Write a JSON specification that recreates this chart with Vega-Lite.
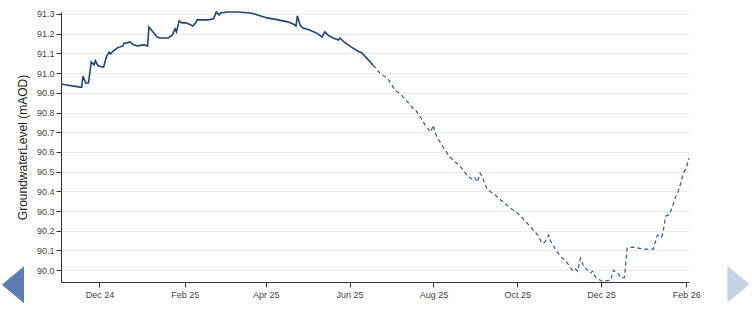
{
  "$schema": "https://vega.github.io/schema/vega-lite/v6.json",
  "autosize": {"type": "none"},
  "width": 628,
  "height": 270,
  "padding": {"left": 61, "top": 12, "right": 63, "bottom": 33},
  "background": "white",
  "config": {
    "view": {"stroke": null},
    "axis": {
      "labelFont": "Liberation Sans",
      "titleFont": "Liberation Sans",
      "labelFontSize": 9,
      "labelColor": "#444",
      "domainColor": "#333",
      "tickColor": "#333",
      "gridColor": "#ebebeb",
      "labelOverlap": false
    }
  },
  "datasets": {
    "levels": [
      {"date": "2024-11-03", "level": 90.945, "quality": "validated"},
      {"date": "2024-11-07", "level": 90.940, "quality": "validated"},
      {"date": "2024-11-11", "level": 90.935, "quality": "validated"},
      {"date": "2024-11-17", "level": 90.929, "quality": "validated"},
      {"date": "2024-11-18", "level": 90.929, "quality": "validated"},
      {"date": "2024-11-19", "level": 90.985, "quality": "validated"},
      {"date": "2024-11-21", "level": 90.950, "quality": "validated"},
      {"date": "2024-11-23", "level": 90.950, "quality": "validated"},
      {"date": "2024-11-25", "level": 91.056, "quality": "validated"},
      {"date": "2024-11-27", "level": 91.041, "quality": "validated"},
      {"date": "2024-11-28", "level": 91.062, "quality": "validated"},
      {"date": "2024-11-30", "level": 91.036, "quality": "validated"},
      {"date": "2024-12-04", "level": 91.031, "quality": "validated"},
      {"date": "2024-12-06", "level": 91.082, "quality": "validated"},
      {"date": "2024-12-08", "level": 91.107, "quality": "validated"},
      {"date": "2024-12-09", "level": 91.097, "quality": "validated"},
      {"date": "2024-12-11", "level": 91.112, "quality": "validated"},
      {"date": "2024-12-14", "level": 91.128, "quality": "validated"},
      {"date": "2024-12-18", "level": 91.138, "quality": "validated"},
      {"date": "2024-12-19", "level": 91.153, "quality": "validated"},
      {"date": "2024-12-21", "level": 91.153, "quality": "validated"},
      {"date": "2024-12-23", "level": 91.158, "quality": "validated"},
      {"date": "2024-12-26", "level": 91.143, "quality": "validated"},
      {"date": "2024-12-29", "level": 91.138, "quality": "validated"},
      {"date": "2025-01-02", "level": 91.143, "quality": "validated"},
      {"date": "2025-01-05", "level": 91.138, "quality": "validated"},
      {"date": "2025-01-06", "level": 91.234, "quality": "validated"},
      {"date": "2025-01-09", "level": 91.209, "quality": "validated"},
      {"date": "2025-01-12", "level": 91.183, "quality": "validated"},
      {"date": "2025-01-14", "level": 91.178, "quality": "validated"},
      {"date": "2025-01-20", "level": 91.178, "quality": "validated"},
      {"date": "2025-01-23", "level": 91.194, "quality": "validated"},
      {"date": "2025-01-25", "level": 91.224, "quality": "validated"},
      {"date": "2025-01-26", "level": 91.209, "quality": "validated"},
      {"date": "2025-01-28", "level": 91.265, "quality": "validated"},
      {"date": "2025-01-30", "level": 91.255, "quality": "validated"},
      {"date": "2025-02-02", "level": 91.255, "quality": "validated"},
      {"date": "2025-02-04", "level": 91.249, "quality": "validated"},
      {"date": "2025-02-07", "level": 91.239, "quality": "validated"},
      {"date": "2025-02-09", "level": 91.255, "quality": "validated"},
      {"date": "2025-02-10", "level": 91.270, "quality": "validated"},
      {"date": "2025-02-18", "level": 91.270, "quality": "validated"},
      {"date": "2025-02-22", "level": 91.275, "quality": "validated"},
      {"date": "2025-02-24", "level": 91.310, "quality": "validated"},
      {"date": "2025-02-26", "level": 91.295, "quality": "validated"},
      {"date": "2025-02-27", "level": 91.305, "quality": "validated"},
      {"date": "2025-03-04", "level": 91.310, "quality": "validated"},
      {"date": "2025-03-12", "level": 91.310, "quality": "validated"},
      {"date": "2025-03-21", "level": 91.305, "quality": "validated"},
      {"date": "2025-03-26", "level": 91.295, "quality": "validated"},
      {"date": "2025-04-02", "level": 91.280, "quality": "validated"},
      {"date": "2025-04-10", "level": 91.270, "quality": "validated"},
      {"date": "2025-04-17", "level": 91.260, "quality": "validated"},
      {"date": "2025-04-21", "level": 91.249, "quality": "validated"},
      {"date": "2025-04-23", "level": 91.239, "quality": "validated"},
      {"date": "2025-04-24", "level": 91.290, "quality": "validated"},
      {"date": "2025-04-26", "level": 91.244, "quality": "validated"},
      {"date": "2025-04-28", "level": 91.229, "quality": "validated"},
      {"date": "2025-05-03", "level": 91.219, "quality": "validated"},
      {"date": "2025-05-09", "level": 91.199, "quality": "validated"},
      {"date": "2025-05-12", "level": 91.183, "quality": "validated"},
      {"date": "2025-05-14", "level": 91.209, "quality": "validated"},
      {"date": "2025-05-16", "level": 91.194, "quality": "validated"},
      {"date": "2025-05-20", "level": 91.178, "quality": "validated"},
      {"date": "2025-05-24", "level": 91.168, "quality": "validated"},
      {"date": "2025-05-25", "level": 91.178, "quality": "validated"},
      {"date": "2025-05-28", "level": 91.158, "quality": "validated"},
      {"date": "2025-06-02", "level": 91.133, "quality": "validated"},
      {"date": "2025-06-07", "level": 91.112, "quality": "validated"},
      {"date": "2025-06-10", "level": 91.102, "quality": "validated"},
      {"date": "2025-06-14", "level": 91.072, "quality": "validated"},
      {"date": "2025-06-18", "level": 91.041, "quality": "validated"},
      {"date": "2025-06-18", "level": 91.041, "quality": "provisional"},
      {"date": "2025-06-23", "level": 91.001, "quality": "provisional"},
      {"date": "2025-06-29", "level": 90.970, "quality": "provisional"},
      {"date": "2025-07-04", "level": 90.914, "quality": "provisional"},
      {"date": "2025-07-08", "level": 90.894, "quality": "provisional"},
      {"date": "2025-07-12", "level": 90.863, "quality": "provisional"},
      {"date": "2025-07-14", "level": 90.848, "quality": "provisional"},
      {"date": "2025-07-17", "level": 90.823, "quality": "provisional"},
      {"date": "2025-07-19", "level": 90.813, "quality": "provisional"},
      {"date": "2025-07-23", "level": 90.772, "quality": "provisional"},
      {"date": "2025-07-26", "level": 90.736, "quality": "provisional"},
      {"date": "2025-07-30", "level": 90.701, "quality": "provisional"},
      {"date": "2025-08-01", "level": 90.736, "quality": "provisional"},
      {"date": "2025-08-02", "level": 90.701, "quality": "provisional"},
      {"date": "2025-08-04", "level": 90.670, "quality": "provisional"},
      {"date": "2025-08-08", "level": 90.625, "quality": "provisional"},
      {"date": "2025-08-13", "level": 90.574, "quality": "provisional"},
      {"date": "2025-08-21", "level": 90.523, "quality": "provisional"},
      {"date": "2025-08-26", "level": 90.477, "quality": "provisional"},
      {"date": "2025-08-29", "level": 90.462, "quality": "provisional"},
      {"date": "2025-08-31", "level": 90.472, "quality": "provisional"},
      {"date": "2025-09-02", "level": 90.447, "quality": "provisional"},
      {"date": "2025-09-04", "level": 90.493, "quality": "provisional"},
      {"date": "2025-09-06", "level": 90.467, "quality": "provisional"},
      {"date": "2025-09-09", "level": 90.411, "quality": "provisional"},
      {"date": "2025-09-15", "level": 90.381, "quality": "provisional"},
      {"date": "2025-09-19", "level": 90.356, "quality": "provisional"},
      {"date": "2025-09-21", "level": 90.345, "quality": "provisional"},
      {"date": "2025-09-26", "level": 90.315, "quality": "provisional"},
      {"date": "2025-10-01", "level": 90.290, "quality": "provisional"},
      {"date": "2025-10-05", "level": 90.264, "quality": "provisional"},
      {"date": "2025-10-06", "level": 90.254, "quality": "provisional"},
      {"date": "2025-10-11", "level": 90.218, "quality": "provisional"},
      {"date": "2025-10-16", "level": 90.178, "quality": "provisional"},
      {"date": "2025-10-19", "level": 90.137, "quality": "provisional"},
      {"date": "2025-10-21", "level": 90.142, "quality": "provisional"},
      {"date": "2025-10-24", "level": 90.178, "quality": "provisional"},
      {"date": "2025-10-25", "level": 90.152, "quality": "provisional"},
      {"date": "2025-10-30", "level": 90.091, "quality": "provisional"},
      {"date": "2025-11-03", "level": 90.061, "quality": "provisional"},
      {"date": "2025-11-06", "level": 90.041, "quality": "provisional"},
      {"date": "2025-11-10", "level": 90.000, "quality": "provisional"},
      {"date": "2025-11-12", "level": 90.010, "quality": "provisional"},
      {"date": "2025-11-14", "level": 89.995, "quality": "provisional"},
      {"date": "2025-11-16", "level": 90.061, "quality": "provisional"},
      {"date": "2025-11-18", "level": 90.026, "quality": "provisional"},
      {"date": "2025-11-21", "level": 90.000, "quality": "provisional"},
      {"date": "2025-11-23", "level": 89.985, "quality": "provisional"},
      {"date": "2025-11-25", "level": 89.995, "quality": "provisional"},
      {"date": "2025-11-27", "level": 89.964, "quality": "provisional"},
      {"date": "2025-11-29", "level": 89.954, "quality": "provisional"},
      {"date": "2025-12-02", "level": 89.944, "quality": "provisional"},
      {"date": "2025-12-08", "level": 89.949, "quality": "provisional"},
      {"date": "2025-12-10", "level": 90.000, "quality": "provisional"},
      {"date": "2025-12-13", "level": 89.985, "quality": "provisional"},
      {"date": "2025-12-16", "level": 89.959, "quality": "provisional"},
      {"date": "2025-12-18", "level": 89.964, "quality": "provisional"},
      {"date": "2025-12-20", "level": 90.112, "quality": "provisional"},
      {"date": "2025-12-24", "level": 90.117, "quality": "provisional"},
      {"date": "2026-01-01", "level": 90.107, "quality": "provisional"},
      {"date": "2026-01-08", "level": 90.107, "quality": "provisional"},
      {"date": "2026-01-11", "level": 90.178, "quality": "provisional"},
      {"date": "2026-01-14", "level": 90.168, "quality": "provisional"},
      {"date": "2026-01-15", "level": 90.188, "quality": "provisional"},
      {"date": "2026-01-17", "level": 90.274, "quality": "provisional"},
      {"date": "2026-01-20", "level": 90.284, "quality": "provisional"},
      {"date": "2026-01-24", "level": 90.366, "quality": "provisional"},
      {"date": "2026-01-26", "level": 90.396, "quality": "provisional"},
      {"date": "2026-01-28", "level": 90.442, "quality": "provisional"},
      {"date": "2026-01-30", "level": 90.493, "quality": "provisional"},
      {"date": "2026-02-01", "level": 90.518, "quality": "provisional"},
      {"date": "2026-02-03", "level": 90.569, "quality": "provisional"}
    ],
    "nav": [
      {"date": "2024-09-29", "level": 89.926, "button": "previous"},
      {"date": "2026-03-11", "level": 89.929, "button": "next"}
    ]
  },
  "encoding": {
    "x": {
      "field": "date",
      "type": "temporal",
      "scale": {"domain": [{"year": 2024, "month": 11, "date": 3}, {"year": 2026, "month": 2, "date": 3}]},
      "axis": {
        "title": null,
        "grid": false,
        "format": "%b %y",
        "labelFlush": false,
        "tickSize": 5,
        "labelPadding": 3,
        "values": [
          {"year": 2024, "month": 12, "date": 1},
          {"year": 2025, "month": 2, "date": 1},
          {"year": 2025, "month": 4, "date": 1},
          {"year": 2025, "month": 6, "date": 1},
          {"year": 2025, "month": 8, "date": 1},
          {"year": 2025, "month": 10, "date": 1},
          {"year": 2025, "month": 12, "date": 1},
          {"year": 2026, "month": 2, "date": 1}
        ]
      }
    },
    "y": {
      "field": "level",
      "type": "quantitative",
      "scale": {"domain": [89.94, 91.31], "nice": false, "zero": false},
      "axis": {
        "title": "GroundwaterLevel (mAOD)",
        "titleFontSize": 12,
        "titleFontWeight": "normal",
        "titleColor": "#222",
        "titlePadding": 7,
        "format": ".1f",
        "tickSize": 5,
        "labelPadding": 2,
        "labelOverlap": false,
        "tickCount": 14,
        "values": [90.0, 90.1, 90.2, 90.3, 90.4, 90.5, 90.6, 90.7, 90.8, 90.9, 91.0, 91.1, 91.2, 91.3]
      }
    }
  },
  "layer": [
    {
      "data": {"name": "levels"},
      "transform": [{"filter": "datum.quality == 'validated'"}],
      "mark": {"type": "line", "strokeWidth": 1.6, "color": "#1f4477"}
    },
    {
      "data": {"name": "levels"},
      "transform": [{"filter": "datum.quality == 'provisional'"}],
      "mark": {"type": "line", "strokeWidth": 1.2, "color": "#2d5996", "strokeDash": [4, 3]}
    },
    {
      "data": {"name": "nav"},
      "mark": {"type": "point", "filled": true, "opacity": 1, "size": 1369, "shape": "M0.6,-1L-0.6,0L0.6,1Z", "color": "#5b7db3"},
      "transform": [{"filter": "datum.button == 'previous'"}]
    },
    {
      "data": {"name": "nav"},
      "mark": {"type": "point", "filled": true, "opacity": 1, "size": 1369, "shape": "M-0.6,-1L0.6,0L-0.6,1Z", "color": "#c6d3e7"},
      "transform": [{"filter": "datum.button == 'next'"}]
    }
  ]
}
